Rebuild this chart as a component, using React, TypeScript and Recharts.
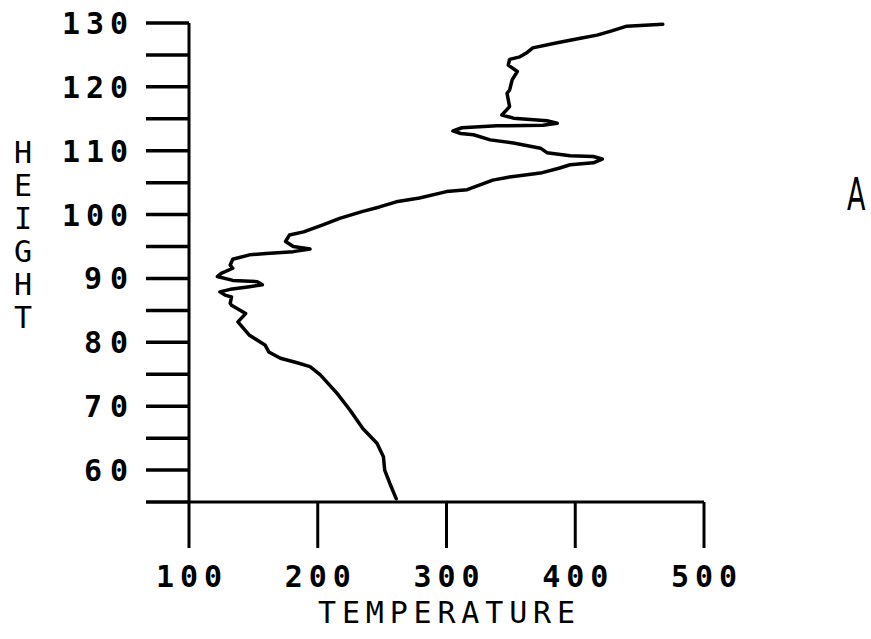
import { Line, LineChart, XAxis, YAxis } from "recharts"

// sounding profile, read from the ground up
const temperature = [
  261, 256, 252, 251, 246, 235, 225, 215, 202, 194, 184, 171, 162, 159, 147,
  138, 144, 133, 132, 133, 128, 124, 132, 147, 157, 153, 134, 122, 125, 134,
  132, 134, 147, 160, 181, 194, 181, 175, 178, 189, 204, 217, 235, 248, 261,
  279, 300, 316, 336, 349, 373, 388, 396, 414, 421, 414, 396, 378, 373, 352,
  334, 321, 311, 305, 312, 339, 375, 386, 378, 352, 343, 349, 347, 349, 351,
  355, 348, 349, 357, 362, 367, 386, 404, 417, 429, 440, 468,
]
const height = [
  55.5, 57.9, 60.0, 62.1, 64.2, 66.5, 69.4, 72.0, 74.9, 76.2, 76.8, 77.5, 78.5,
  79.6, 81.1, 83.2, 84.5, 85.8, 86.1, 87.1, 87.4, 87.9, 88.3, 88.7, 89.0, 89.5,
  89.7, 90.3, 90.8, 91.6, 92.1, 93.0, 93.7, 93.9, 94.2, 94.6, 95.0, 95.8, 96.8,
  97.3, 98.4, 99.4, 100.5, 101.2, 102.0, 102.6, 103.6, 103.9, 105.4, 105.9,
  106.5, 107.3, 107.8, 108.1, 108.7, 109.1, 109.2, 109.7, 110.4, 111.2, 111.7,
  112.5, 112.7, 113.1, 113.6, 113.9, 114.0, 114.3, 114.7, 115.1, 115.6, 116.9,
  119.0, 119.5, 121.1, 122.4, 123.4, 124.3, 124.7, 125.3, 126.1, 126.9, 127.6,
  128.1, 128.8, 129.5, 129.8,
]

const tempTicks = [100, 200, 300, 400, 500]
const heightTicks = [55, 60, 65, 70, 75, 80, 85, 90, 95, 100, 105, 110, 115, 120, 125, 130]
const heightTitle = ["H", "E", "I", "G", "H", "T"]

const profile = temperature.map((t, i) => ({ t, h: height[i] }))

const INK = "#000"
const MONO = "'DejaVu Sans Mono', 'Liberation Mono', monospace"

// plotter digits: a fixed 22px cell per character
function Digits({ x, y, dy, anchor, value }: any) {
  const s = String(value)
  return (
    <text
      x={x}
      y={y}
      dy={dy}
      textAnchor={anchor}
      fontFamily={MONO}
      fontWeight="bold"
      fontSize={30}
      fill={INK}
      textLength={s.length * 22}
      lengthAdjust="spacing"
    >
      {s}
    </text>
  )
}

function HeightTick({ x, y, payload }: any) {
  if (payload.value % 10 !== 0) return <g />
  return <Digits x={x} y={y} dy={11} anchor="end" value={payload.value} />
}

function TempTick({ x, y, payload }: any) {
  return <Digits x={x} y={y} dy={39} anchor="middle" value={payload.value} />
}

function TempTitle({ viewBox }: any) {
  const vb = viewBox ?? { x: 189, y: 502, width: 515 }
  return (
    <text
      x={vb.x + vb.width / 2}
      y={vb.y + 121}
      textAnchor="middle"
      fontFamily={MONO}
      fontSize={30}
      fill={INK}
      textLength={257}
      lengthAdjust="spacing"
    >
      TEMPERATURE
    </text>
  )
}

function HeightTitle({ viewBox }: any) {
  const top = viewBox?.y ?? 23
  return (
    <g>
      {heightTitle.map((ch, i) => (
        <text
          key={i}
          x={23}
          y={top + 140 + i * 33}
          textAnchor="middle"
          fontFamily={MONO}
          fontSize={30}
          fill={INK}
        >
          {ch}
        </text>
      ))}
    </g>
  )
}

export default function App() {
  return (
    <div style={{ position: "absolute", left: 0, top: 0, width: 871, height: 639, background: "#fff" }}>
      <LineChart
        width={871}
        height={639}
        data={profile}
        margin={{ top: 23, right: 167, left: 0, bottom: 0 }}
      >
        <XAxis
          type="number"
          dataKey="t"
          domain={[100, 500]}
          ticks={tempTicks}
          height={137}
          tickSize={46}
          tickMargin={0}
          axisLine={{ stroke: INK, strokeWidth: 3 }}
          tickLine={{ stroke: INK, strokeWidth: 3 }}
          tick={<TempTick />}
          label={{ content: (p: any) => <TempTitle viewBox={p.viewBox} /> }}
        />
        <YAxis
          type="number"
          domain={[55, 130]}
          ticks={heightTicks}
          width={189}
          tickSize={43}
          tickMargin={18}
          axisLine={{ stroke: INK, strokeWidth: 3 }}
          tickLine={{ stroke: INK, strokeWidth: 3.5 }}
          tick={<HeightTick />}
          interval={0}
          label={{ content: (p: any) => <HeightTitle viewBox={p.viewBox} /> }}
        />
        <Line
          type="linear"
          dataKey="h"
          stroke={INK}
          strokeWidth={3.5}
          strokeLinejoin="round"
          strokeLinecap="round"
          dot={false}
          isAnimationActive={false}
        />
      </LineChart>
      {/* panel letter, narrow plotter style */}
      <svg width={50} height={60} style={{ position: "absolute", left: 821, top: 165 }}>
        <g transform="translate(26,45) scale(0.6,1)">
          <text x={0} y={0} fontFamily="'DejaVu Sans', sans-serif" fontSize={45} fill={INK}>
            A
          </text>
        </g>
      </svg>
    </div>
  )
}
